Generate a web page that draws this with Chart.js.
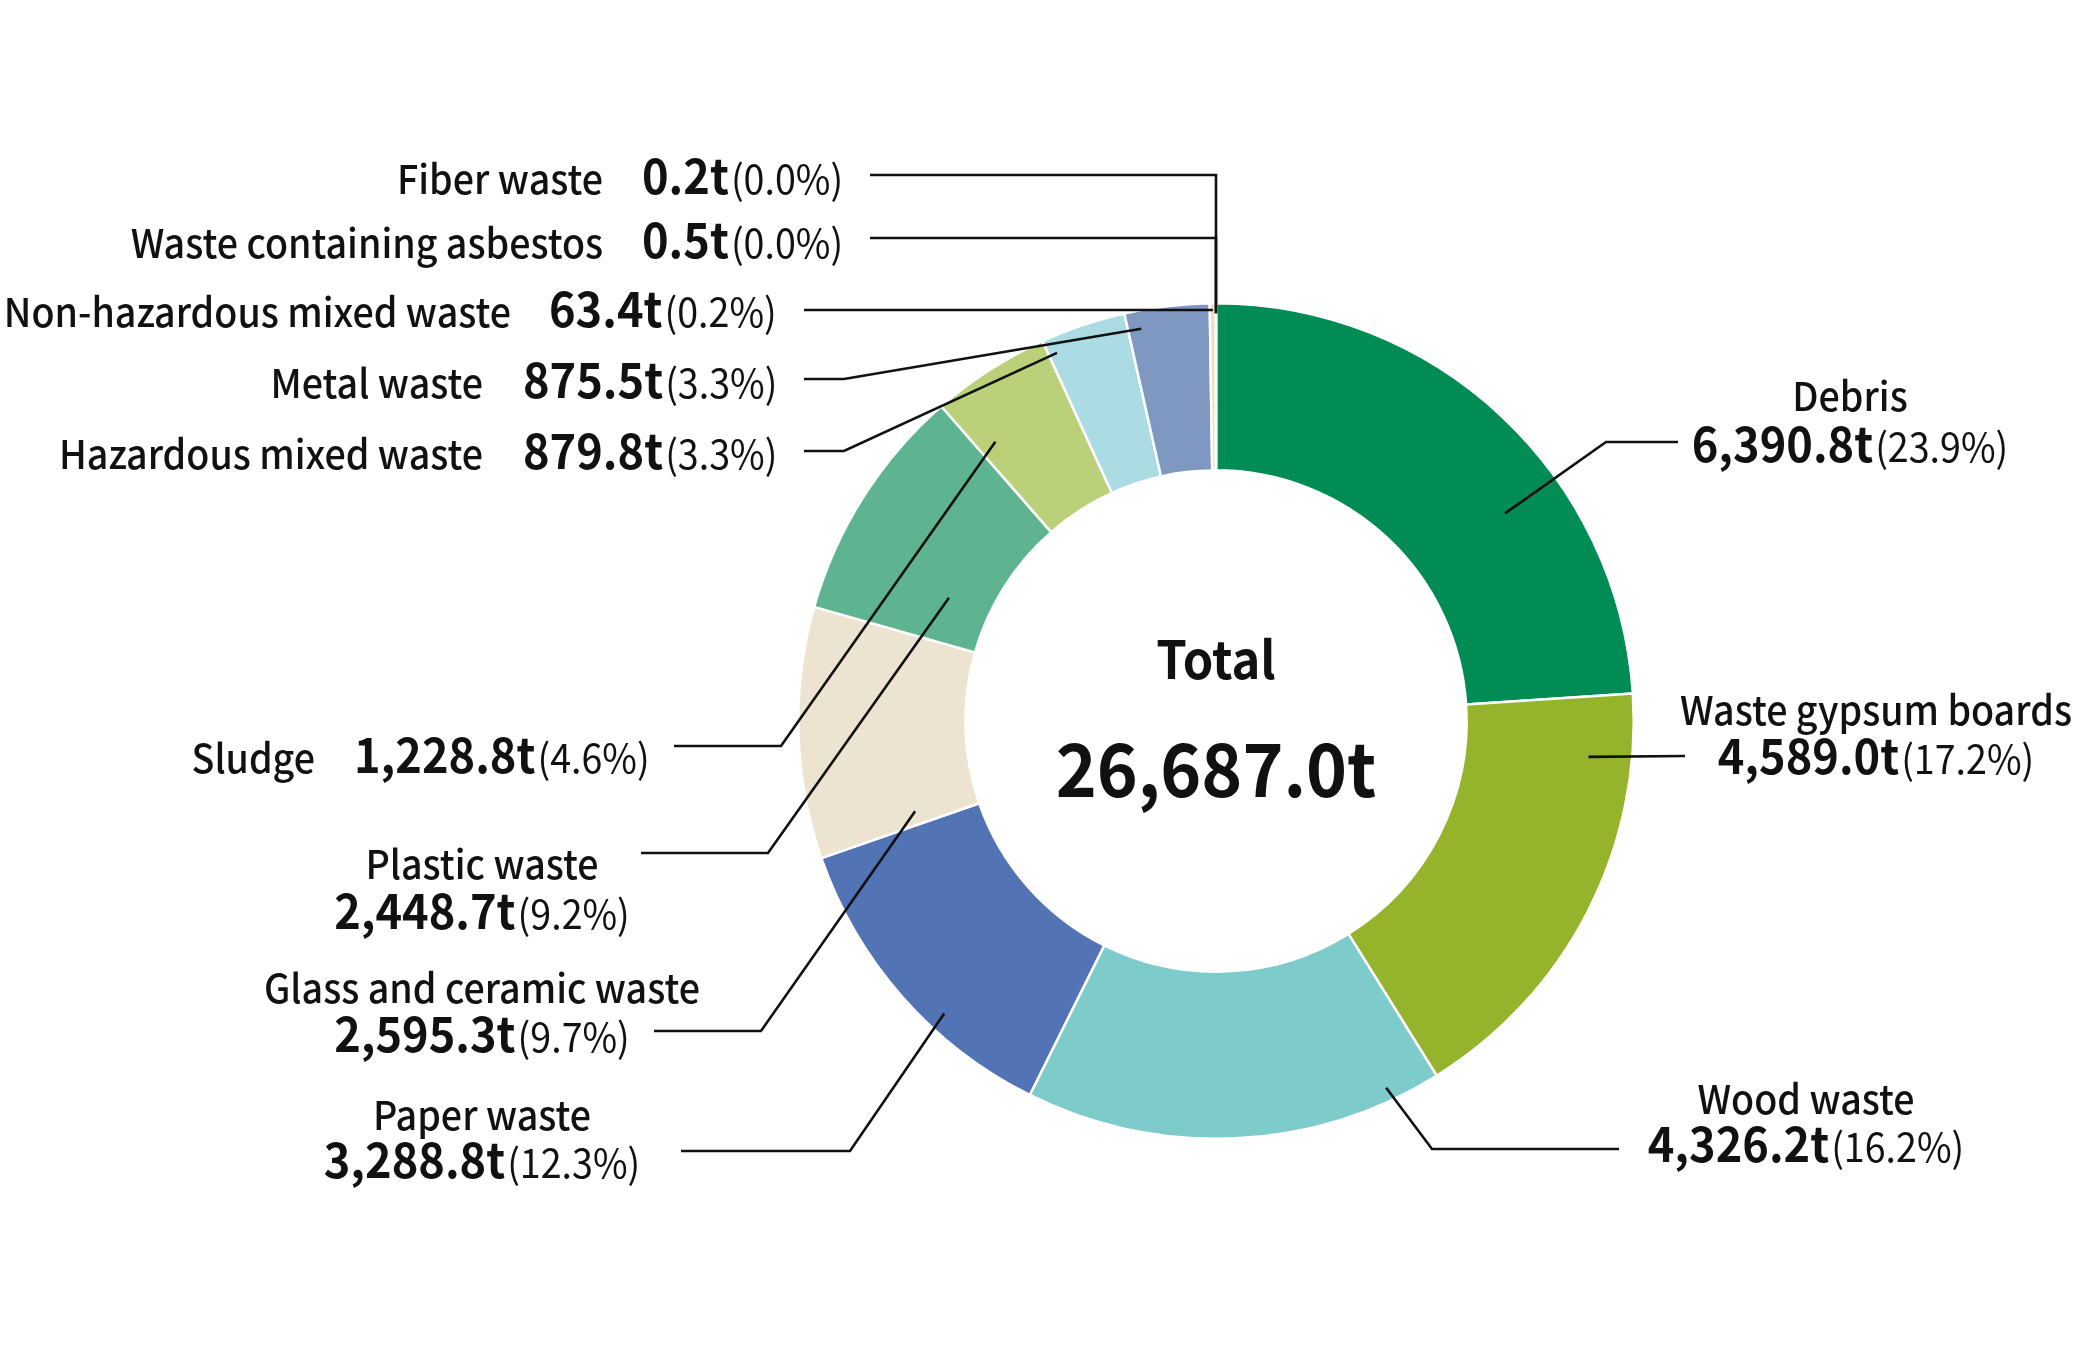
<!DOCTYPE html>
<html>
<head>
<meta charset="utf-8">
<script src="https://cdn.jsdelivr.net/npm/chart.js@4.4.1/dist/chart.umd.min.js"></script>
<style>
  html, body { margin: 0; padding: 0; background: #fff; }
  #wrap { width: 2083px; height: 1358px; position: relative; }
</style>
</head>
<body>
<div id="wrap"><canvas id="wasteChart"></canvas></div>
<script>
// categorias, toneladas e percentuais
const categories = ['Debris', 'Waste gypsum boards', 'Wood waste', 'Paper waste', 'Glass and ceramic waste',
    'Plastic waste', 'Sludge', 'Hazardous mixed waste', 'Metal waste', 'Non-hazardous mixed waste',
    'Waste containing asbestos', 'Fiber waste'];
const tonnes = [6390.8, 4589.0, 4326.2, 3288.8, 2595.3, 2448.7, 1228.8, 879.8, 875.5, 63.4, 0.5, 0.2];
const percents = ['23.9', '17.2', '16.2', '12.3', '9.7', '9.2', '4.6', '3.3', '3.3', '0.2', '0.0', '0.0'];
const sliceColors = ['#008c54', '#96b42b', '#7ecbcb', '#5273b4', '#ede3d1', '#5eb490', '#bad079',
    '#acdce3', '#7f98c1', '#f3d8c2', '#e6e6e6', '#e6e6e6'];
const totalLabel = 'Total';

// posição dos rótulos (canvas px) e ponto de ancoragem dentro da fatia (fração do ângulo / do anel)
const callouts = [
    { kind: 'stack', cx: 1850, y1: 396, y2: 445, lx: 1678, ly: 442, elbow: 1606, t: 0.63, r: 0.63 },
    { kind: 'stack', cx: 1876, y1: 710, y2: 757, lx: 1685, ly: 756, elbow: null, t: 0.15, r: 0.74 },
    { kind: 'stack', cx: 1806, y1: 1099, y2: 1145, lx: 1619, ly: 1149, elbow: 1432, t: 0.12, r: 0.92 },
    { kind: 'stack', cx: 482, y1: 1115, y2: 1161, lx: 681, ly: 1151, elbow: 850, t: 0.37, r: 0.89 },
    { kind: 'stack', cx: 482, y1: 988, y2: 1035, lx: 654, ly: 1031, elbow: 761, t: 0.07, r: 0.38 },
    { kind: 'stack', cx: 482, y1: 864, y2: 912, lx: 641, ly: 853, elbow: 768, t: 0.27, r: 0.26 },
    { kind: 'row', right: 315, vx: 354, y: 757, lx: 674, ly: 746, elbow: 781, t: 0.17, r: 0.63 },
    { kind: 'row', right: 483, vx: 523, y: 453, lx: 804, ly: 451, elbow: 844, t: 0.10, r: 0.90 },
    { kind: 'row', right: 483, vx: 523, y: 382, lx: 804, ly: 379, elbow: 844, t: 0.16, r: 0.89 },
    { kind: 'row', right: 511, vx: 549, y: 311, lx: 804, ly: 310, elbow: null, t: 0.5, r: 0.96 },
    { kind: 'row', right: 603, vx: 642, y: 242, lx: 870, ly: 238, elbow: 'down', t: 0.5, r: 0.94 },
    { kind: 'row', right: 603, vx: 642, y: 178, lx: 870, ly: 175, elbow: 'down', t: 0.5, r: 0.94 }
];

const FONT = '"Noto Sans CJK JP", "Noto Sans", sans-serif';
const nameFont = '500 40px ' + FONT;
const valueFont = '600 48px ' + FONT;
const pctFont = '400 40px ' + FONT;
const NARROW = 0.94; // a fonte original é um pouco mais condensada

function fmtT(v) {
    return v.toLocaleString('en-US', { minimumFractionDigits: 1, maximumFractionDigits: 1 }) + 't';
}

function anchorPoint(arc, c) {
    const a = arc.startAngle + (arc.endAngle - arc.startAngle) * c.t;
    const rad = arc.innerRadius + (arc.outerRadius - arc.innerRadius) * c.r;
    return { x: arc.x + Math.cos(a) * rad, y: arc.y + Math.sin(a) * rad };
}

function narrowText(ctx, text, x, y, align) {
    ctx.save();
    ctx.translate(x, y);
    ctx.scale(NARROW, 1);
    ctx.textAlign = align;
    ctx.fillText(text, 0, 0);
    ctx.restore();
}

function drawValueLine(ctx, i, startX, baseY, align) {
    const v = fmtT(tonnes[i]);
    const p = '(' + percents[i] + '%)';
    ctx.font = valueFont;
    const wv = ctx.measureText(v).width * NARROW;
    ctx.font = pctFont;
    const wp = ctx.measureText(p).width * NARROW;
    let x = startX;
    if (align === 'center') x = startX - (wv + wp + 2) / 2;
    ctx.font = valueFont;
    narrowText(ctx, v, x, baseY, 'left');
    ctx.font = pctFont;
    narrowText(ctx, p, x + wv + 2, baseY, 'left');
}

const calloutPlugin = {
    id: 'callouts',
    afterDatasetsDraw(chart) {
        const ctx = chart.ctx;
        const arcs = chart.getDatasetMeta(0).data;
        ctx.save();
        // linhas de chamada
        ctx.strokeStyle = '#111';
        ctx.lineWidth = 2.6;
        ctx.lineJoin = 'miter';
        callouts.forEach((c, i) => {
            const pt = anchorPoint(arcs[i], c);
            ctx.beginPath();
            ctx.moveTo(c.lx, c.ly);
            if (c.elbow === 'down') {
                ctx.lineTo(pt.x, c.ly);
            } else if (c.elbow !== null) {
                ctx.lineTo(c.elbow, c.ly);
            }
            ctx.lineTo(pt.x, pt.y);
            ctx.stroke();
        });

        // textos
        ctx.fillStyle = '#111';
        ctx.textBaseline = 'alphabetic';
        callouts.forEach((c, i) => {
            if (c.kind === 'row') {
                const base = c.y + 16;
                ctx.font = nameFont;
                narrowText(ctx, categories[i], c.right, base, 'right');
                drawValueLine(ctx, i, c.vx, base, 'left');
            } else {
                ctx.font = nameFont;
                narrowText(ctx, categories[i], c.cx, c.y1 + 15, 'center');
                drawValueLine(ctx, i, c.cx, c.y2 + 17, 'center');
            }
        });

        // total no centro
        const cx = arcs[0].x, cy = arcs[0].y;
        const total = tonnes.reduce((s, v) => s + v, 0);
        ctx.textBaseline = 'middle';
        ctx.font = '600 52px ' + FONT;
        narrowText(ctx, totalLabel, cx, cy - 62, 'center');
        ctx.font = '600 74px ' + FONT;
        narrowText(ctx, fmtT(total), cx, cy + 48, 'center');
        ctx.restore();
    }
};

new Chart(document.getElementById('wasteChart').getContext('2d'), {
    type: 'doughnut',
    data: {
        labels: categories,
        datasets: [{
            data: tonnes,
            backgroundColor: sliceColors,
            borderColor: '#ffffff',
            borderWidth: 2.5
        }]
    },
    options: {
        responsive: true,
        maintainAspectRatio: false,
        devicePixelRatio: 1,
        animation: false,
        cutout: '60%',
        layout: { padding: { left: 797, right: 448, top: 302, bottom: 218 } },
        plugins: {
            legend: { display: false },
            tooltip: { enabled: false }
        }
    },
    plugins: [calloutPlugin]
});
</script>
</body>
</html>
